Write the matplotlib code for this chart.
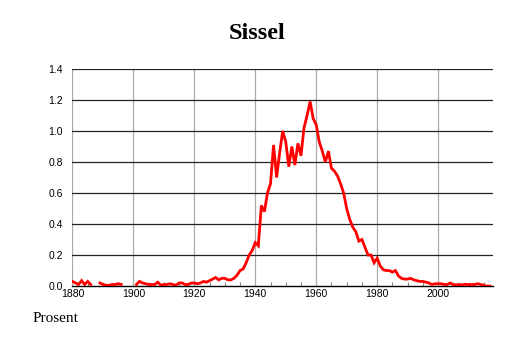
import numpy as np
import matplotlib
matplotlib.use("Agg")
import matplotlib.pyplot as plt

years = list(range(1880, 2018))
values = [
    # 1880-1889
    0.03, 0.02, 0.01, 0.035, 0.01, 0.03, 0.01, np.nan, np.nan, 0.02,
    # 1890-1899
    0.01, 0.005, 0.005, 0.01, 0.01, 0.015, 0.01, np.nan, np.nan, np.nan,
    # 1900-1909
    np.nan, 0.01, 0.03, 0.02, 0.015, 0.01, 0.01, 0.01, 0.025, 0.005,
    # 1910-1919
    0.01, 0.01, 0.015, 0.01, 0.005, 0.02, 0.02, 0.01, 0.01, 0.02,
    # 1920-1929
    0.02, 0.015, 0.02, 0.03, 0.025, 0.035, 0.045, 0.055, 0.04, 0.05,
    # 1930-1939
    0.05, 0.04, 0.04, 0.05, 0.07, 0.10, 0.11, 0.15, 0.20, 0.23,
    # 1940-1949
    0.28, 0.26, 0.52, 0.48, 0.60, 0.66, 0.91, 0.70, 0.86, 1.00,
    # 1950-1959
    0.93, 0.77, 0.90, 0.78, 0.92, 0.84, 1.02, 1.10, 1.19, 1.08,
    # 1960-1969
    1.04, 0.93, 0.87, 0.80, 0.87, 0.76, 0.74, 0.71, 0.66, 0.60,
    # 1970-1979
    0.50, 0.43, 0.38, 0.35, 0.29, 0.30, 0.25, 0.20, 0.20, 0.15,
    # 1980-1989
    0.18, 0.13, 0.105, 0.10, 0.10, 0.09, 0.10, 0.065, 0.05, 0.045,
    # 1990-1999
    0.045, 0.05, 0.04, 0.035, 0.03, 0.03, 0.025, 0.02, 0.01, 0.015,
    # 2000-2009
    0.015, 0.015, 0.01, 0.01, 0.02, 0.008, 0.008, 0.01, 0.008, 0.012,
    # 2010-2017
    0.008, 0.01, 0.01, 0.015, 0.01, 0.005, 0.0, 0.0,
]

title = "Sissel"
ylabel_text = "Prosent"
xticks = [1880, 1900, 1920, 1940, 1960, 1980, 2000]
yticks = [0.0, 0.2, 0.4, 0.6, 0.8, 1.0, 1.2, 1.4]

fig = plt.figure(figsize=(5.14, 3.43), dpi=100)
ax = fig.add_axes([0.141, 0.166, 0.818, 0.633])

ax.plot(years, values, color="#ff0000", linewidth=2.0, solid_joinstyle="miter", zorder=3)

ax.set_xlim(1880, 2018)
ax.set_ylim(0, 1.4)
ax.set_xticks(xticks)
ax.set_xticks(np.arange(1880, 2018, 5), minor=True)
ax.set_yticks(yticks)
ax.set_yticklabels([f"{v:.1f}" for v in yticks])

for y in yticks[1:]:
    ax.axhline(y, color="#222222", linewidth=0.9, zorder=1)
for x in xticks:
    ax.axvline(x, color="#aaaaaa", linewidth=0.9, zorder=0)

for s in ["left", "right", "top"]:
    ax.spines[s].set_visible(False)
ax.spines["bottom"].set_color("black")
ax.spines["bottom"].set_linewidth(1.0)

ax.tick_params(axis="y", length=0, pad=7, labelsize=7.5)
ax.tick_params(axis="x", which="major", length=0, pad=2, labelsize=7.5)
ax.tick_params(axis="x", which="minor", direction="in", length=3, color="#888888", width=0.8)
for lab in ax.get_xticklabels() + ax.get_yticklabels():
    lab.set_family("Liberation Sans")

fig.text(0.5, 0.903, title, ha="center", va="center", fontsize=17.5,
         fontweight="bold", family="Liberation Serif")
fig.text(0.064, 0.07, ylabel_text, ha="left", va="center", fontsize=11,
         family="Liberation Serif")

fig.savefig("out.png", dpi=100)
